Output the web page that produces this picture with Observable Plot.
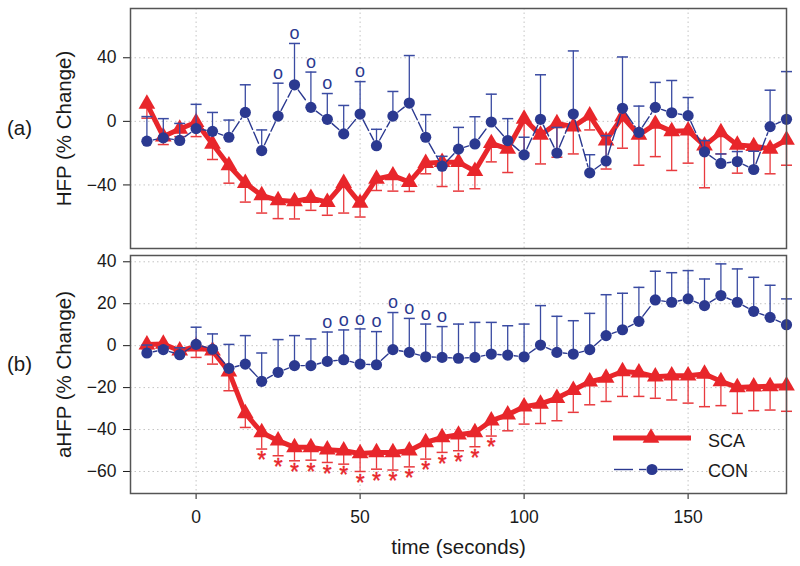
<!DOCTYPE html>
<html>
<head>
<meta charset="utf-8">
<script src="https://cdn.jsdelivr.net/npm/d3@7"></script>
<script src="https://cdn.jsdelivr.net/npm/@observablehq/plot@0.6"></script>
<style>
  html, body { margin: 0; padding: 0; background: #fff; }
  #chart { position: relative; width: 800px; height: 566px; overflow: hidden; }
</style>
</head>
<body>
<div id="chart"></div>
<script>
// ---- data ----
const times = [-15,-10,-5,0,5,10,15,20,25,30,35,40,45,50,55,60,65,70,75,80,85,90,95,100,105,110,115,120,125,130,135,140,145,150,155,160,165,170,175,180];

// (a) HFP % change
const hfpCon   = [-12.5,-10.4,-12,-4.6,-6.3,-10,5.6,-18.4,3.3,23,8.8,1.3,-7.9,4.6,-15.3,3.3,11.5,-10,-28.2,-17.5,-14.2,-0.4,-12.1,-21.1,1.3,-19.9,4.6,-32.4,-24.9,8.2,-6.9,8.8,5.4,3.6,-19.2,-26.5,-25.3,-30.3,-3.3,1.3];
const hfpConHi = [3,1.7,-1.3,10.7,5.6,0.8,23,-5.4,24,49,31,17.5,10,25,-5,18.8,41.4,4.2,-22,-3.8,2.9,17.1,1.7,-10,29.3,-3.8,44.3,-21,-9,40.5,9.6,24.5,25.7,15,-12.1,-20.5,-19,-18.8,19.6,31.3];
const hfpSca   = [11,-9.6,-4.8,-0.6,-14.2,-27.8,-38.9,-46.6,-49.7,-50.4,-48.3,-50.8,-38.9,-51.4,-36.2,-34.1,-38.2,-26.3,-25.7,-25.7,-31.3,-13.8,-17.3,1.5,-8.6,-1.3,-3.3,3.6,-12.1,2.9,-8.6,-1.7,-6.3,-5.9,-15.3,-6.9,-14.8,-15.7,-17.3,-11.7];
const hfpScaLo = [2,-14.6,-9.6,-9.6,-24,-38.9,-50.8,-57.7,-61.2,-61.4,-56,-59.1,-57.7,-60.2,-43.5,-43.9,-44.1,-33,-41,-43.9,-42.4,-25.5,-32.2,-20,-26.8,-22.6,-20.5,-5.4,-30,-16.9,-27.6,-22.2,-30.9,-26.3,-41.8,-20.5,-32.6,-30,-33,-27.6];
const hfpOTimes = [25,30,35,40,50];
const hfpStarTimes = [];

// (b) aHFP % change
const ahfpCon   = [-3.5,-1.9,-4.3,0.6,-1.7,-10.8,-8.8,-17,-12.7,-9.5,-9.5,-7.5,-6.7,-8.8,-9.1,-1.9,-3.2,-5.3,-5.6,-6,-5.6,-4,-4.5,-5.3,0.3,-3.2,-4,-1.9,4.8,7.6,11.6,21.8,20.7,22.3,19.1,23.9,20.7,16.4,13.5,10];
const ahfpConHi = [0.3,-0.5,-1,8.8,5.6,0.6,4.8,-3.5,2.9,4.8,3.2,6.5,7.5,8,6.7,15.8,13,10.3,9.1,10.3,11.1,11.1,9.5,10.3,19.1,14,11.9,15.4,24.3,25,27.8,35.5,34.8,35.8,31.8,39,36.6,32.6,28.8,22.3];
const ahfpSca   = [0.5,0.8,-2.4,-0.5,-2.4,-12.4,-32.3,-41.4,-45.3,-48.5,-48.5,-49.6,-50.1,-51.4,-50.9,-50.9,-50.1,-46.1,-43.8,-42.5,-41.4,-35.8,-32.9,-29.1,-27.8,-25,-21.2,-17.2,-15.4,-12.3,-12.9,-14.8,-14.3,-14.3,-13.5,-17,-19.9,-19.6,-19.4,-19.1];
const ahfpScaLo = [-1.5,-1.5,-4,-5.6,-8.8,-21.5,-39,-49.3,-52.5,-54.9,-54.6,-55.7,-56.5,-60,-58.9,-59.3,-57.8,-54.1,-50.9,-50.1,-48.2,-43.1,-40.6,-37.4,-37.1,-35.8,-31.8,-28.2,-26.6,-24.2,-24.2,-25.1,-25.9,-27.4,-29.1,-28.6,-32.3,-31,-30.7,-31.3];
const ahfpOTimes = [40,45,50,55,60,65,70,75];
const ahfpStarTimes = [20,25,30,35,40,45,50,55,60,65,70,75,80,85,90];

const xTicks = [0,50,100,150];
const hfpTicks = [-40,0,40];
const ahfpTicks = [-60,-40,-20,0,20,40];
const seriesNames = ["SCA","CON"];

// ---- style ----
const FONT = "'Liberation Sans', Arial, Helvetica, sans-serif";
const RED = "#e8262b", RED_ERR = "#e83a3e";
const BLUE = "#2b3990", BLUE_ERR = "#3a4ba2";
const capSymbol = { draw(ctx) { ctx.moveTo(-5.5, 0); ctx.lineTo(5.5, 0); } };

function rows(mean, bound) { return times.map((t, i) => ({t, v: mean[i], b: bound[i]})); }

function panel(o) {
  const conRows = rows(o.con, o.conHi), scaRows = rows(o.sca, o.scaLo);
  const segs = d3.pairs(conRows).map(([a, b]) => ({x1: a.t, y1: a.v, x2: b.t, y2: b.v}));
  const oRows = conRows.filter(d => o.oTimes.includes(d.t));
  const starRows = scaRows.filter(d => o.starTimes.includes(d.t));
  const marks = [
    Plot.ruleX(xTicks, {stroke: "#c4c4c4", strokeDasharray: "1.5,3"}),
    Plot.ruleY(o.yTicks, {stroke: "#c4c4c4", strokeDasharray: "1.5,3"}),
    Plot.ruleX(scaRows, {x: "t", y1: "v", y2: "b", stroke: RED_ERR, strokeWidth: 1.3}),
    Plot.dot(scaRows, {x: "t", y: "b", symbol: capSymbol, stroke: RED_ERR, strokeWidth: 1.5, fill: "none"}),
    Plot.line(scaRows, {x: "t", y: "v", stroke: RED, strokeWidth: 5, strokeLinejoin: "round"}),
    Plot.dot(scaRows, {x: "t", y: "v", symbol: "triangle", r: 6.2, fill: RED, stroke: "none"}),
    Plot.ruleX(conRows, {x: "t", y1: "v", y2: "b", stroke: BLUE_ERR, strokeWidth: 1.3}),
    Plot.dot(conRows, {x: "t", y: "b", symbol: capSymbol, stroke: BLUE_ERR, strokeWidth: 1.5, fill: "none"}),
    Plot.arrow(segs, {x1: "x1", y1: "y1", x2: "x2", y2: "y2", headLength: 0, inset: 6.5, stroke: BLUE, strokeWidth: 1.4, strokeDasharray: "12,3"}),
    Plot.dot(conRows, {x: "t", y: "v", r: 5.6, fill: BLUE, stroke: "none"}),
    Plot.text(oRows, {x: "t", y: "b", text: () => "o", dy: -10, fill: BLUE, fontSize: 18}),
    Plot.text(starRows, {x: "t", y: "b", text: () => "*", lineAnchor: "top", dy: 3, fill: RED, stroke: RED, strokeWidth: 0.4, fontSize: 23}),
    Plot.text([o.label], {text: d => d, frameAnchor: "left", textAnchor: "middle", lineAnchor: "middle", rotate: -90, dx: -66, fontSize: 20.5, fill: "#1a1a1a"}),
    Plot.text([o.tag], {text: d => d, frameAnchor: "left", textAnchor: "middle", lineAnchor: "middle", dx: -111, dy: o.tagDy, fontSize: 20.5, fill: "#1a1a1a"}),
    Plot.frame({stroke: "#555", strokeWidth: 1.5})
  ];
  if (o.xAxis) marks.push(Plot.text(["time (seconds)"], {text: d => d, frameAnchor: "bottom", textAnchor: "middle", lineAnchor: "middle", dy: 54, fontSize: 20.5, fill: "#1a1a1a"}));
  return Plot.plot({
    width: 800, height: o.height,
    marginLeft: 130, marginRight: 14, marginTop: o.marginTop, marginBottom: o.marginBottom,
    style: {fontFamily: FONT, fontSize: "17.5px", color: "#1a1a1a", background: "transparent", overflow: "visible"},
    x: {domain: [-20, 180], ticks: xTicks, tickSize: 6, tickPadding: 11, label: null, axis: o.xAxis ? "bottom" : null},
    y: {domain: o.yDomain, ticks: o.yTicks, tickSize: 7, tickPadding: 7, label: null},
    marks
  });
}

const chart = document.getElementById("chart");
const topPlot = panel({height: 250, marginTop: 8, marginBottom: 2, yDomain: [-80, 71], yTicks: hfpTicks,
  con: hfpCon, conHi: hfpConHi, sca: hfpSca, scaLo: hfpScaLo, oTimes: hfpOTimes, starTimes: hfpStarTimes,
  label: "HFP (% Change)", tag: "(a)", tagDy: 0, xAxis: false});
topPlot.style.position = "absolute"; topPlot.style.top = "0px"; topPlot.style.left = "0px";
chart.appendChild(topPlot);
const botPlot = panel({height: 316, marginTop: 5, marginBottom: 73, yDomain: [-70.5, 43], yTicks: ahfpTicks,
  con: ahfpCon, conHi: ahfpConHi, sca: ahfpSca, scaLo: ahfpScaLo, oTimes: ahfpOTimes, starTimes: ahfpStarTimes,
  label: "aHFP (% Change)", tag: "(b)", tagDy: -10, xAxis: true});
botPlot.style.position = "absolute"; botPlot.style.top = "250px"; botPlot.style.left = "0px";
chart.appendChild(botPlot);

// ---- legend (inside lower panel) ----
const lg = d3.select(chart).append("svg")
  .attr("width", 800).attr("height", 566)
  .style("position", "absolute").style("top", "0px").style("left", "0px")
  .style("font-family", FONT);
lg.append("line").attr("x1", 613).attr("x2", 691).attr("y1", 438).attr("y2", 438)
  .attr("stroke", RED).attr("stroke-width", 5);
lg.append("path").attr("d", d3.symbol(d3.symbolTriangle, 6.2 * 6.2 * Math.PI)()).attr("transform", "translate(651,438)").attr("fill", RED);
[[614, 633], [639, 646], [658, 664], [664, 683]].forEach(([a, b]) =>
  lg.append("line").attr("x1", a).attr("x2", b).attr("y1", 469.5).attr("y2", 469.5)
    .attr("stroke", BLUE).attr("stroke-width", 1.4));
lg.append("circle").attr("cx", 652).attr("cy", 469.5).attr("r", 5.6).attr("fill", BLUE);
lg.selectAll("text.lab").data(seriesNames).join("text")
  .attr("x", 708).attr("y", (d, i) => 441 + i * 30).attr("dy", "0.35em")
  .attr("font-size", 18).attr("fill", "#1a1a1a").text(d => d);
</script>
</body>
</html>
